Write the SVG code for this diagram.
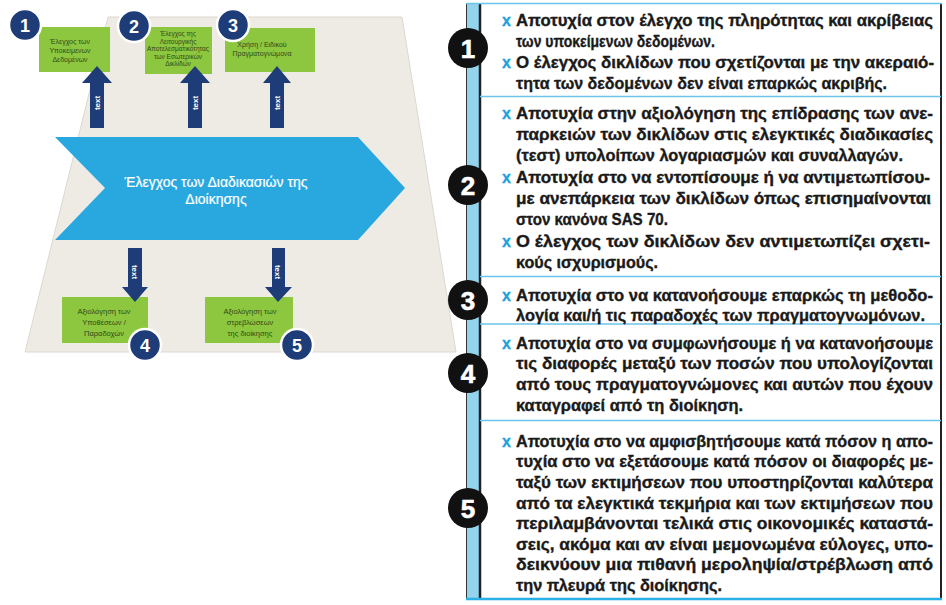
<svg xmlns="http://www.w3.org/2000/svg" width="946" height="605" viewBox="0 0 946 605">
<defs>
<style>
.bx{fill:#8dc63f;}
.bt{font-family:"Liberation Sans",Arial,sans-serif;font-size:7px;fill:#2f4a19;text-anchor:middle;}
.nc{fill:#1d3c78;stroke:#ffffff;stroke-width:2.5;}
.nn{font-family:"Liberation Sans",Arial,sans-serif;font-size:18px;font-weight:bold;fill:#ffffff;text-anchor:middle;}
.ar{fill:#1d3c78;}
.at{font-family:"Liberation Sans",Arial,sans-serif;font-size:8px;font-weight:bold;fill:#ffffff;text-anchor:middle;}
.ct{font-family:"Liberation Sans",Arial,sans-serif;font-size:14px;fill:#ffffff;text-anchor:middle;stroke:#ffffff;stroke-width:0.2;}
.rc{fill:#111111;}
.rn{font-family:"Liberation Sans",Arial,sans-serif;font-size:26px;font-weight:bold;fill:#ffffff;text-anchor:middle;stroke:#ffffff;stroke-width:0.6;}
.tx{font-family:"Liberation Sans",Arial,sans-serif;font-size:16px;font-weight:bold;fill:#1a1a1a;stroke:#1a1a1a;stroke-width:0.35;}
.bu{font-family:"Liberation Sans",Arial,sans-serif;font-size:16px;font-weight:bold;fill:#1ea0dc;stroke:#1ea0dc;stroke-width:0.3;}
.sep{stroke:#6cc4ea;stroke-width:1.5;}
</style>
</defs>
<rect width="946" height="605" fill="#ffffff"/>

<!-- left background -->
<g id="background">
<polygon points="108,17 402,17 456,352 25,352" fill="#eeebe5" stroke="#dcd8d0" stroke-width="1"/>
</g>

<!-- central chevron -->
<g id="process">
<polygon points="55,137 358,137 405,188 358,240 55,240 105,188" fill="#29a8e0"/>
<text class="ct" x="216" y="187">Έλεγχος των Διαδικασιών της</text>
<text class="ct" x="216" y="204">Διοίκησης</text>
</g>

<!-- step boxes -->
<g id="step1">
<rect class="bx" x="39" y="27" width="71" height="45"/>
<text class="bt" x="70" y="44">Έλεγχος των</text>
<text class="bt" x="70" y="53">Υποκείμενων</text>
<text class="bt" x="70" y="62">Δεδομένων</text>
<circle class="nc" cx="25" cy="25" r="16"/>
<text class="nn" x="25" y="31.5">1</text>
</g>
<g id="step2">
<rect class="bx" x="145" y="27" width="67" height="47"/>
<text class="bt" x="178" y="36" style="font-size:6.5px">Έλεγχος της</text>
<text class="bt" x="178" y="43.5" style="font-size:6.5px">Λειτουργικής</text>
<text class="bt" x="178" y="51" style="font-size:6.5px" textLength="62" lengthAdjust="spacingAndGlyphs">Αποτελεσματικότητας</text>
<text class="bt" x="178" y="58.5" style="font-size:6.5px">των Εσωτερικών</text>
<text class="bt" x="178" y="66" style="font-size:6.5px">Δικλίδων</text>
<circle class="nc" cx="134" cy="26" r="16"/>
<text class="nn" x="134" y="32.5">2</text>
</g>
<g id="step3">
<rect class="bx" x="225" y="28" width="90" height="44"/>
<text class="bt" x="262" y="47">Χρήση / Ειδικού</text>
<text class="bt" x="262" y="56">Πραγματογνώμονα</text>
<circle class="nc" cx="233" cy="25" r="16"/>
<text class="nn" x="233" y="31.5">3</text>
</g>
<g id="step4">
<rect class="bx" x="62" y="297" width="86" height="46"/>
<text class="bt" x="104" y="314" style="font-size:7.5px">Αξιολόγηση των</text>
<text class="bt" x="104" y="325" style="font-size:7.5px">Υποθέσεων /</text>
<text class="bt" x="104" y="336" style="font-size:7.5px">Παραδοχών</text>
<circle class="nc" cx="145" cy="345" r="16"/>
<text class="nn" x="145" y="351.5">4</text>
</g>
<g id="step5">
<rect class="bx" x="205" y="297" width="88" height="46"/>
<text class="bt" x="250" y="314" style="font-size:7.5px">Αξιολόγηση των</text>
<text class="bt" x="250" y="325" style="font-size:7.5px">στρεβλώσεων</text>
<text class="bt" x="250" y="336" style="font-size:7.5px">της διοίκησης</text>
<circle class="nc" cx="297" cy="345" r="16"/>
<text class="nn" x="297" y="351.5">5</text>
</g>

<!-- connectors -->
<g id="connectors">
<polygon class="ar" points="90,128 90,83 82,83 97,66 112,83 104,83 104,128"/>
<text class="at" transform="translate(100,103) rotate(-90)">text</text>
<polygon class="ar" points="188,128 188,83 180,83 195,66 210,83 202,83 202,128"/>
<text class="at" transform="translate(198,103) rotate(-90)">text</text>
<polygon class="ar" points="270,128 270,83 263,83 277,66 291,83 284,83 284,128"/>
<text class="at" transform="translate(280,103) rotate(-90)">text</text>
<polygon class="ar" points="128,248 142,248 142,287 148,287 135,302 122,287 128,287"/>
<text class="at" transform="translate(132,272) rotate(90)">text</text>
<polygon class="ar" points="272,248 285,248 285,287 292,287 278,302 265,287 272,287"/>
<text class="at" transform="translate(275,272) rotate(90)">text</text>
</g>

<!-- right panel frame -->
<g id="panel">
<rect x="466" y="3" width="13" height="596" fill="#93d3ec"/>
<line x1="466.5" y1="3" x2="466.5" y2="599" stroke="#333333" stroke-width="1"/>
<line x1="480" y1="3" x2="480" y2="599" stroke="#222222" stroke-width="2.5"/>
<line x1="941" y1="3" x2="941" y2="599" stroke="#222222" stroke-width="2"/>
<line class="sep" x1="466" y1="3.5" x2="942" y2="3.5"/>
<line class="sep" x1="480" y1="96.5" x2="941" y2="96.5"/>
<line class="sep" x1="480" y1="276.5" x2="941" y2="276.5"/>
<line class="sep" x1="480" y1="324" x2="941" y2="324"/>
<line class="sep" x1="480" y1="420.5" x2="941" y2="420.5"/>
<line x1="466" y1="599" x2="942" y2="599" stroke="#29b0e6" stroke-width="2.5"/>
</g>

<g id="risk1">
<circle class="rc" cx="468" cy="48" r="20"/>
<text class="rn" x="468" y="57.5">1</text>
<text class="bu" x="502" y="26">x</text>
<text class="tx" x="516" y="26" textLength="417" lengthAdjust="spacingAndGlyphs">Αποτυχία στον έλεγχο της πληρότητας και ακρίβειας</text>
<text class="tx" x="516" y="47" textLength="199" lengthAdjust="spacingAndGlyphs">των υποκείμενων δεδομένων.</text>
<text class="bu" x="502" y="68">x</text>
<text class="tx" x="516" y="68" textLength="418" lengthAdjust="spacingAndGlyphs">Ο έλεγχος δικλίδων που σχετίζονται με την ακεραιό-</text>
<text class="tx" x="516" y="89" textLength="371" lengthAdjust="spacingAndGlyphs">τητα των δεδομένων δεν είναι επαρκώς ακριβής.</text>
</g>

<g id="risk2">
<circle class="rc" cx="468" cy="185" r="20"/>
<text class="rn" x="468" y="194.5">2</text>
<text class="bu" x="502" y="119">x</text>
<text class="tx" x="516" y="119" textLength="417" lengthAdjust="spacingAndGlyphs">Αποτυχία στην αξιολόγηση της επίδρασης των ανε-</text>
<text class="tx" x="516" y="140" textLength="417" lengthAdjust="spacingAndGlyphs">παρκειών των δικλίδων στις ελεγκτικές διαδικασίες</text>
<text class="tx" x="516" y="161" textLength="387" lengthAdjust="spacingAndGlyphs">(τεστ) υπολοίπων λογαριασμών και συναλλαγών.</text>
<text class="bu" x="502" y="183">x</text>
<text class="tx" x="516" y="183" textLength="414" lengthAdjust="spacingAndGlyphs">Αποτυχία στο να εντοπίσουμε ή να αντιμετωπίσου-</text>
<text class="tx" x="516" y="204" textLength="415" lengthAdjust="spacingAndGlyphs">με ανεπάρκεια των δικλίδων όπως επισημαίνονται</text>
<text class="tx" x="516" y="225" textLength="152" lengthAdjust="spacingAndGlyphs">στον κανόνα SAS 70.</text>
<text class="bu" x="502" y="247">x</text>
<text class="tx" x="516" y="247" textLength="414" lengthAdjust="spacingAndGlyphs">Ο έλεγχος των δικλίδων δεν αντιμετωπίζει σχετι-</text>
<text class="tx" x="516" y="268" textLength="142" lengthAdjust="spacingAndGlyphs">κούς ισχυρισμούς.</text>
</g>

<g id="risk3">
<circle class="rc" cx="468" cy="300" r="20"/>
<text class="rn" x="468" y="309.5">3</text>
<text class="bu" x="502" y="301">x</text>
<text class="tx" x="516" y="301" textLength="417" lengthAdjust="spacingAndGlyphs">Αποτυχία στο να κατανοήσουμε επαρκώς τη μεθοδο-</text>
<text class="tx" x="516" y="321" textLength="409" lengthAdjust="spacingAndGlyphs">λογία και/ή τις παραδοχές των πραγματογνωμόνων.</text>
</g>

<g id="risk4">
<circle class="rc" cx="468" cy="373" r="20"/>
<text class="rn" x="468" y="382.5">4</text>
<text class="bu" x="502" y="349">x</text>
<text class="tx" x="516" y="349" textLength="417" lengthAdjust="spacingAndGlyphs">Αποτυχία στο να συμφωνήσουμε ή να κατανοήσουμε</text>
<text class="tx" x="516" y="369" textLength="417" lengthAdjust="spacingAndGlyphs">τις διαφορές μεταξύ των ποσών που υπολογίζονται</text>
<text class="tx" x="516" y="390" textLength="417" lengthAdjust="spacingAndGlyphs">από τους πραγματογνώμονες και αυτών που έχουν</text>
<text class="tx" x="516" y="411" textLength="227" lengthAdjust="spacingAndGlyphs">καταγραφεί από τη διοίκηση.</text>
</g>

<g id="risk5">
<circle class="rc" cx="468" cy="508" r="20"/>
<text class="rn" x="468" y="517.5">5</text>
<text class="bu" x="502" y="447">x</text>
<text class="tx" x="516" y="447" textLength="417" lengthAdjust="spacingAndGlyphs">Αποτυχία στο να αμφισβητήσουμε κατά πόσον η απο-</text>
<text class="tx" x="516" y="467" textLength="417" lengthAdjust="spacingAndGlyphs">τυχία στο να εξετάσουμε κατά πόσον οι διαφορές με-</text>
<text class="tx" x="516" y="488" textLength="417" lengthAdjust="spacingAndGlyphs">ταξύ των εκτιμήσεων που υποστηρίζονται καλύτερα</text>
<text class="tx" x="516" y="509" textLength="417" lengthAdjust="spacingAndGlyphs">από τα ελεγκτικά τεκμήρια και των εκτιμήσεων που</text>
<text class="tx" x="516" y="529" textLength="417" lengthAdjust="spacingAndGlyphs">περιλαμβάνονται τελικά στις οικονομικές καταστά-</text>
<text class="tx" x="516" y="550" textLength="417" lengthAdjust="spacingAndGlyphs">σεις, ακόμα και αν είναι μεμονωμένα εύλογες, υπο-</text>
<text class="tx" x="516" y="570" textLength="417" lengthAdjust="spacingAndGlyphs">δεικνύουν μια πιθανή μεροληψία/στρέβλωση από</text>
<text class="tx" x="516" y="591" textLength="206" lengthAdjust="spacingAndGlyphs">την πλευρά της διοίκησης.</text>
</g>
</svg>
